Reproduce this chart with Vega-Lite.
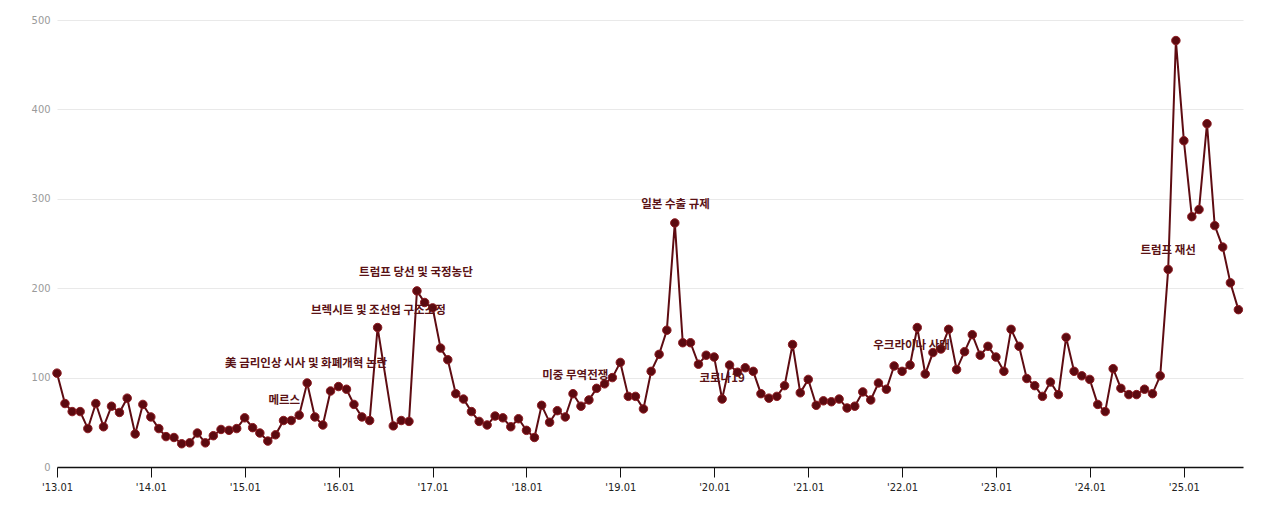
{
  "$schema": "https://vega.github.io/schema/vega-lite/v6.json",
  "autosize": {"type": "none"},
  "width": 1186,
  "height": 447,
  "padding": {"left": 57, "top": 20, "right": 27, "bottom": 50},
  "background": "#ffffff",
  "config": {
    "view": {"stroke": null},
    "axis": {"labelFont": "Liberation Sans Narrow, DejaVu Sans Condensed, Liberation Sans, sans-serif", "titleFont": "Liberation Sans"}
  },
  "datasets": {
    "series": [
      {"date": "2013-01-01", "v": 105}, {"date": "2013-02-01", "v": 71}, {"date": "2013-03-01", "v": 62}, {"date": "2013-04-01", "v": 62},
      {"date": "2013-05-01", "v": 43}, {"date": "2013-06-01", "v": 71}, {"date": "2013-07-01", "v": 45}, {"date": "2013-08-01", "v": 68},
      {"date": "2013-09-01", "v": 61}, {"date": "2013-10-01", "v": 77}, {"date": "2013-11-01", "v": 37}, {"date": "2013-12-01", "v": 70},
      {"date": "2014-01-01", "v": 56}, {"date": "2014-02-01", "v": 43}, {"date": "2014-03-01", "v": 34}, {"date": "2014-04-01", "v": 33},
      {"date": "2014-05-01", "v": 26}, {"date": "2014-06-01", "v": 27}, {"date": "2014-07-01", "v": 38}, {"date": "2014-08-01", "v": 27},
      {"date": "2014-09-01", "v": 35}, {"date": "2014-10-01", "v": 42}, {"date": "2014-11-01", "v": 41}, {"date": "2014-12-01", "v": 43},
      {"date": "2015-01-01", "v": 55}, {"date": "2015-02-01", "v": 44}, {"date": "2015-03-01", "v": 38}, {"date": "2015-04-01", "v": 29},
      {"date": "2015-05-01", "v": 36}, {"date": "2015-06-01", "v": 52}, {"date": "2015-07-01", "v": 52}, {"date": "2015-08-01", "v": 58},
      {"date": "2015-09-01", "v": 94}, {"date": "2015-10-01", "v": 56}, {"date": "2015-11-01", "v": 47}, {"date": "2015-12-01", "v": 85},
      {"date": "2016-01-01", "v": 90}, {"date": "2016-02-01", "v": 87}, {"date": "2016-03-01", "v": 70}, {"date": "2016-04-01", "v": 56},
      {"date": "2016-05-01", "v": 52}, {"date": "2016-06-01", "v": 156},
      {"date": "2016-08-01", "v": 46}, {"date": "2016-09-01", "v": 52}, {"date": "2016-10-01", "v": 51}, {"date": "2016-11-01", "v": 197},
      {"date": "2016-12-01", "v": 184}, {"date": "2017-01-01", "v": 178}, {"date": "2017-02-01", "v": 133}, {"date": "2017-03-01", "v": 120},
      {"date": "2017-04-01", "v": 82}, {"date": "2017-05-01", "v": 76}, {"date": "2017-06-01", "v": 62}, {"date": "2017-07-01", "v": 51},
      {"date": "2017-08-01", "v": 47}, {"date": "2017-09-01", "v": 57}, {"date": "2017-10-01", "v": 55}, {"date": "2017-11-01", "v": 45},
      {"date": "2017-12-01", "v": 54}, {"date": "2018-01-01", "v": 41}, {"date": "2018-02-01", "v": 33}, {"date": "2018-03-01", "v": 69},
      {"date": "2018-04-01", "v": 50}, {"date": "2018-05-01", "v": 63}, {"date": "2018-06-01", "v": 56}, {"date": "2018-07-01", "v": 82},
      {"date": "2018-08-01", "v": 68}, {"date": "2018-09-01", "v": 75}, {"date": "2018-10-01", "v": 88}, {"date": "2018-11-01", "v": 93},
      {"date": "2018-12-01", "v": 100}, {"date": "2019-01-01", "v": 117}, {"date": "2019-02-01", "v": 79}, {"date": "2019-03-01", "v": 79},
      {"date": "2019-04-01", "v": 65}, {"date": "2019-05-01", "v": 107}, {"date": "2019-06-01", "v": 126}, {"date": "2019-07-01", "v": 153},
      {"date": "2019-08-01", "v": 273}, {"date": "2019-09-01", "v": 139}, {"date": "2019-10-01", "v": 139}, {"date": "2019-11-01", "v": 115},
      {"date": "2019-12-01", "v": 125}, {"date": "2020-01-01", "v": 123}, {"date": "2020-02-01", "v": 76}, {"date": "2020-03-01", "v": 114},
      {"date": "2020-04-01", "v": 106}, {"date": "2020-05-01", "v": 111}, {"date": "2020-06-01", "v": 107}, {"date": "2020-07-01", "v": 82},
      {"date": "2020-08-01", "v": 77}, {"date": "2020-09-01", "v": 79}, {"date": "2020-10-01", "v": 91}, {"date": "2020-11-01", "v": 137},
      {"date": "2020-12-01", "v": 83}, {"date": "2021-01-01", "v": 98}, {"date": "2021-02-01", "v": 69}, {"date": "2021-03-01", "v": 74},
      {"date": "2021-04-01", "v": 73}, {"date": "2021-05-01", "v": 76}, {"date": "2021-06-01", "v": 66}, {"date": "2021-07-01", "v": 68},
      {"date": "2021-08-01", "v": 84}, {"date": "2021-09-01", "v": 75}, {"date": "2021-10-01", "v": 94}, {"date": "2021-11-01", "v": 87},
      {"date": "2021-12-01", "v": 113}, {"date": "2022-01-01", "v": 107}, {"date": "2022-02-01", "v": 114}, {"date": "2022-03-01", "v": 156},
      {"date": "2022-04-01", "v": 104}, {"date": "2022-05-01", "v": 128}, {"date": "2022-06-01", "v": 132}, {"date": "2022-07-01", "v": 154},
      {"date": "2022-08-01", "v": 109}, {"date": "2022-09-01", "v": 129}, {"date": "2022-10-01", "v": 148}, {"date": "2022-11-01", "v": 125},
      {"date": "2022-12-01", "v": 135}, {"date": "2023-01-01", "v": 123}, {"date": "2023-02-01", "v": 107}, {"date": "2023-03-01", "v": 154},
      {"date": "2023-04-01", "v": 135}, {"date": "2023-05-01", "v": 99}, {"date": "2023-06-01", "v": 91}, {"date": "2023-07-01", "v": 79},
      {"date": "2023-08-01", "v": 95}, {"date": "2023-09-01", "v": 81}, {"date": "2023-10-01", "v": 145}, {"date": "2023-11-01", "v": 107},
      {"date": "2023-12-01", "v": 102}, {"date": "2024-01-01", "v": 98}, {"date": "2024-02-01", "v": 70}, {"date": "2024-03-01", "v": 62},
      {"date": "2024-04-01", "v": 110}, {"date": "2024-05-01", "v": 88}, {"date": "2024-06-01", "v": 81}, {"date": "2024-07-01", "v": 81},
      {"date": "2024-08-01", "v": 87}, {"date": "2024-09-01", "v": 82}, {"date": "2024-10-01", "v": 102}, {"date": "2024-11-01", "v": 221},
      {"date": "2024-12-01", "v": 477}, {"date": "2025-01-01", "v": 365}, {"date": "2025-02-01", "v": 280}, {"date": "2025-03-01", "v": 288},
      {"date": "2025-04-01", "v": 384}, {"date": "2025-05-01", "v": 270}, {"date": "2025-06-01", "v": 246}, {"date": "2025-07-01", "v": 206},
      {"date": "2025-08-01", "v": 176}
    ],
    "notes": [
      {"date": "2015-08-28", "v": 115, "label": "美 금리인상 시사 및 화폐개혁 논란"},
      {"date": "2015-06-04", "v": 74, "label": "메르스"},
      {"date": "2016-06-04", "v": 174, "label": "브렉시트 및 조선업 구조조정"},
      {"date": "2016-10-28", "v": 217, "label": "트럼프 당선 및 국정농단"},
      {"date": "2018-07-10", "v": 102, "label": "미중 무역전쟁"},
      {"date": "2019-08-04", "v": 293, "label": "일본 수출 규제"},
      {"date": "2020-02-01", "v": 98, "label": "코로나19"},
      {"date": "2022-02-07", "v": 135, "label": "우크라이나 사태"},
      {"date": "2024-11-01", "v": 242, "label": "트럼프 재선"}
    ]
  },
  "encoding": {
    "x": {
      "field": "date", "type": "temporal", "title": null,
      "scale": {"type": "utc", "domain": ["2013-01-01", "2025-08-19"]},
      "axis": {
        "labelExpr": "\"'\" + utcFormat(datum.value, '%y.%m')",
        "tickCount": {"interval": "year", "step": 1},
        "grid": false, "domainColor": "#111111", "domainWidth": 1.5,
        "tickColor": "#111111", "tickSize": 10, "tickWidth": 1,
        "labelColor": "#222222", "labelFontSize": 11, "labelPadding": 4,
        "labelAngle": 0, "labelAlign": "center", "labelFlush": false, "labelOverlap": false
      }
    },
    "y": {
      "field": "v", "type": "quantitative", "title": null,
      "scale": {"domain": [0, 500], "nice": false},
      "axis": {
        "values": [0, 100, 200, 300, 400, 500],
        "domain": false, "ticks": false, "grid": true,
        "gridColor": "#e9e9e9", "gridWidth": 1,
        "labelColor": "#9a9a9a", "labelFontSize": 11, "labelPadding": 7
      }
    }
  },
  "layer": [
    {
      "data": {"name": "series"},
      "mark": {"type": "line", "color": "#5e0c12", "strokeWidth": 2, "clip": false}
    },
    {
      "data": {"name": "series"},
      "mark": {"type": "point", "filled": true, "size": 72, "fill": "#5c0a10", "stroke": "#8e1c22", "strokeWidth": 1, "opacity": 1}
    },
    {
      "data": {"name": "notes"},
      "mark": {"type": "text", "font": "Noto Sans CJK KR", "fontWeight": "bold", "fontSize": 11.5, "color": "#5a1215", "align": "center", "baseline": "middle"},
      "encoding": {"text": {"field": "label"}}
    }
  ]
}
